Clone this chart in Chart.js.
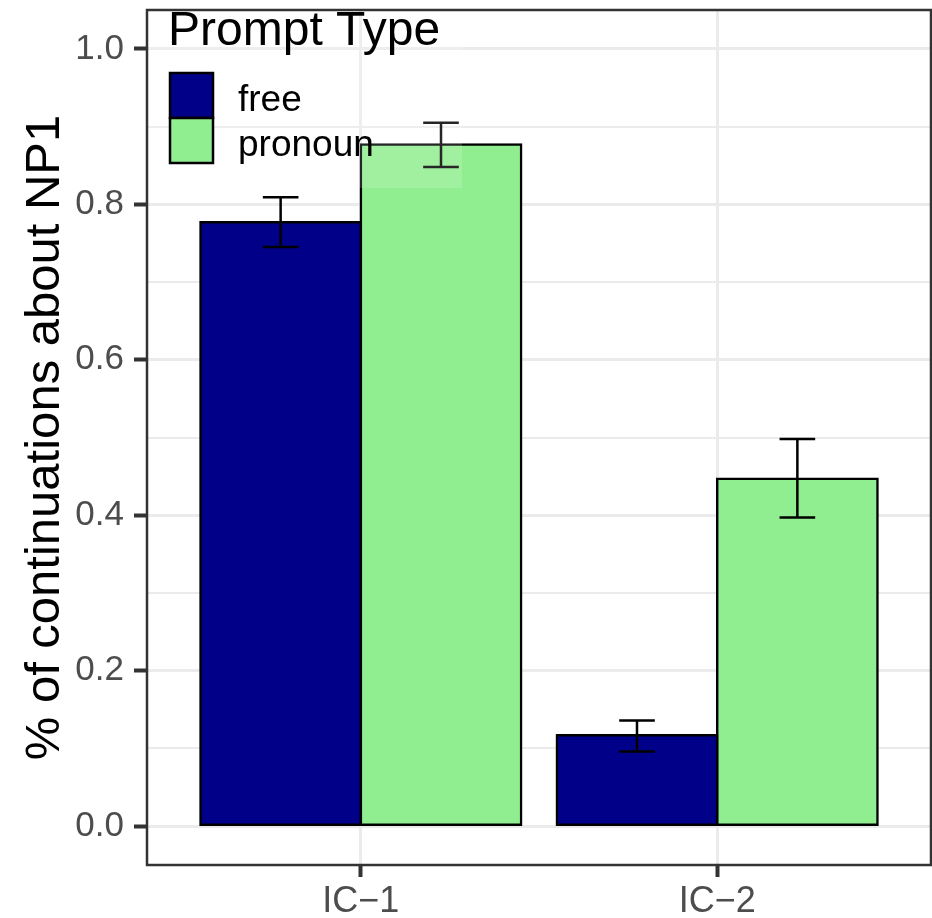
<!DOCTYPE html>
<html>
<head>
<meta charset="utf-8">
<script src="https://cdn.jsdelivr.net/npm/chart.js@4"></script>
<style>
  html, body { margin: 0; padding: 0; background: #fff; }
</style>
</head>
<body>
<canvas id="np1-chart" width="932" height="918"></canvas>
<script>
var categories = ["IC\u22121", "IC\u22122"];
var promptTypes = ["free", "pronoun"];
var freeMeans = [0.777, 0.117];
var freeLow = [0.745, 0.096];
var freeHigh = [0.809, 0.136];
var pronounMeans = [0.877, 0.447];
var pronounLow = [0.848, 0.397];
var pronounHigh = [0.905, 0.498];
var yTickValues = [0, 0.1, 0.2, 0.3, 0.4, 0.5, 0.6, 0.7, 0.8, 0.9, 1.0];
var yTickLabels = ["0.0", "", "0.2", "", "0.4", "", "0.6", "", "0.8", "", "1.0"];

var seriesColors = ["#000088", "#90EE90"];
var font = "'Liberation Sans', Arial, sans-serif";

function points(values) {
  return values.map(function (v, i) {
    return { x: i + 1, y: v };
  });
}

function isMajor(ctx) {
  return yTickLabels[yTickValues.indexOf(ctx.tick.value)] !== "";
}

var errorBars = {
  id: "errorBars",
  afterDatasetsDraw: function (chart) {
    var ctx = chart.ctx;
    var xs = chart.scales.x;
    var ys = chart.scales.y;
    var lows = [freeLow, pronounLow];
    var highs = [freeHigh, pronounHigh];
    var half = xs.getPixelForValue(1.05) - xs.getPixelForValue(1);
    ctx.save();
    ctx.strokeStyle = "#000";
    ctx.lineWidth = 2.5;
    chart.data.datasets.forEach(function (ds, i) {
      chart.getDatasetMeta(i).data.forEach(function (bar, j) {
        var y1 = ys.getPixelForValue(lows[i][j]);
        var y2 = ys.getPixelForValue(highs[i][j]);
        ctx.beginPath();
        ctx.moveTo(bar.x, y1);
        ctx.lineTo(bar.x, y2);
        ctx.moveTo(bar.x - half, y1);
        ctx.lineTo(bar.x + half, y1);
        ctx.moveTo(bar.x - half, y2);
        ctx.lineTo(bar.x + half, y2);
        ctx.stroke();
      });
    });
    ctx.restore();
  }
};

var panelAndLegend = {
  id: "panelAndLegend",
  afterDraw: function (chart) {
    var ctx = chart.ctx;
    var a = chart.chartArea;
    ctx.save();
    // panel border
    ctx.strokeStyle = "#333333";
    ctx.lineWidth = 2.5;
    ctx.strokeRect(a.left, a.top, a.right - a.left, a.bottom - a.top);

    // legend
    ctx.fillStyle = "rgba(255,255,255,0.15)";
    ctx.fillRect(a.left + 2, a.top + 2, 313, 176);
    ctx.fillStyle = "#000";
    ctx.textBaseline = "alphabetic";
    ctx.font = "48px " + font;
    ctx.fillText("Prompt Type", a.left + 21, a.top + 35);
    ctx.font = "37px " + font;
    promptTypes.forEach(function (name, i) {
      var top = a.top + 63 + i * 45;
      ctx.fillStyle = seriesColors[i];
      ctx.fillRect(a.left + 23, top, 43, 45);
      ctx.strokeStyle = "#000";
      ctx.lineWidth = 2.5;
      ctx.strokeRect(a.left + 23, top, 43, 45);
      ctx.fillStyle = "#000";
      ctx.fillText(name, a.left + 91, top + 38);
    });
    ctx.restore();
  }
};

new Chart(document.getElementById("np1-chart"), {
  type: "bar",
  data: {
    datasets: [
      {
        label: promptTypes[0],
        data: points(freeMeans),
        backgroundColor: seriesColors[0],
        borderColor: "#000",
        borderWidth: 2.5,
        borderSkipped: false,
        inflateAmount: 1.25,
      },
      {
        label: promptTypes[1],
        data: points(pronounMeans),
        backgroundColor: seriesColors[1],
        borderColor: "#000",
        borderWidth: 2.5,
        borderSkipped: false,
        inflateAmount: 1.25,
      },
    ],
  },
  options: {
    responsive: false,
    animation: false,
    categoryPercentage: 0.9,
    barPercentage: 1.0,
    layout: { padding: { top: 10, right: 1 } },
    plugins: {
      legend: { display: false },
      tooltip: { enabled: false },
    },
    scales: {
      x: {
        type: "linear",
        min: 0.4,
        max: 2.6,
        offset: false,
        afterBuildTicks: function (scale) {
          scale.ticks = categories.map(function (c, i) {
            return { value: i + 1 };
          });
        },
        afterFit: function (scale) {
          scale.height = 53;
          scale.paddingLeft = 0;
          scale.paddingRight = 0;
        },
        border: { display: false },
        grid: {
          offset: false,
          color: "#EBEBEB",
          lineWidth: 3,
          tickColor: "#333333",
          tickLength: 12,
          tickWidth: 4,
        },
        ticks: {
          callback: function (v) {
            return categories[v - 1];
          },
          color: "#4D4D4D",
          font: { size: 36, family: font },
          padding: 3,
          maxRotation: 0,
        },
      },
      y: {
        min: -0.05,
        max: 1.05,
        afterBuildTicks: function (scale) {
          scale.ticks = yTickValues.map(function (v) {
            return { value: v };
          });
        },
        afterFit: function (scale) {
          scale.width = 147;
          scale.paddingTop = 0;
          scale.paddingBottom = 0;
        },
        border: { display: false },
        grid: {
          color: "#EBEBEB",
          lineWidth: function (ctx) {
            return isMajor(ctx) ? 3 : 2;
          },
          tickColor: function (ctx) {
            return isMajor(ctx) ? "#333333" : "rgba(0,0,0,0)";
          },
          tickLength: 13,
          tickWidth: 4,
        },
        ticks: {
          autoSkip: false,
          callback: function (v, i) {
            return yTickLabels[i];
          },
          color: "#4D4D4D",
          font: { size: 35, family: font },
          padding: 10,
        },
        title: {
          display: true,
          text: "% of continuations about NP1",
          color: "#000",
          font: { size: 49, family: font },
          padding: { top: 16, bottom: 0 },
        },
      },
    },
  },
  plugins: [errorBars, panelAndLegend],
});
</script>
</body>
</html>
